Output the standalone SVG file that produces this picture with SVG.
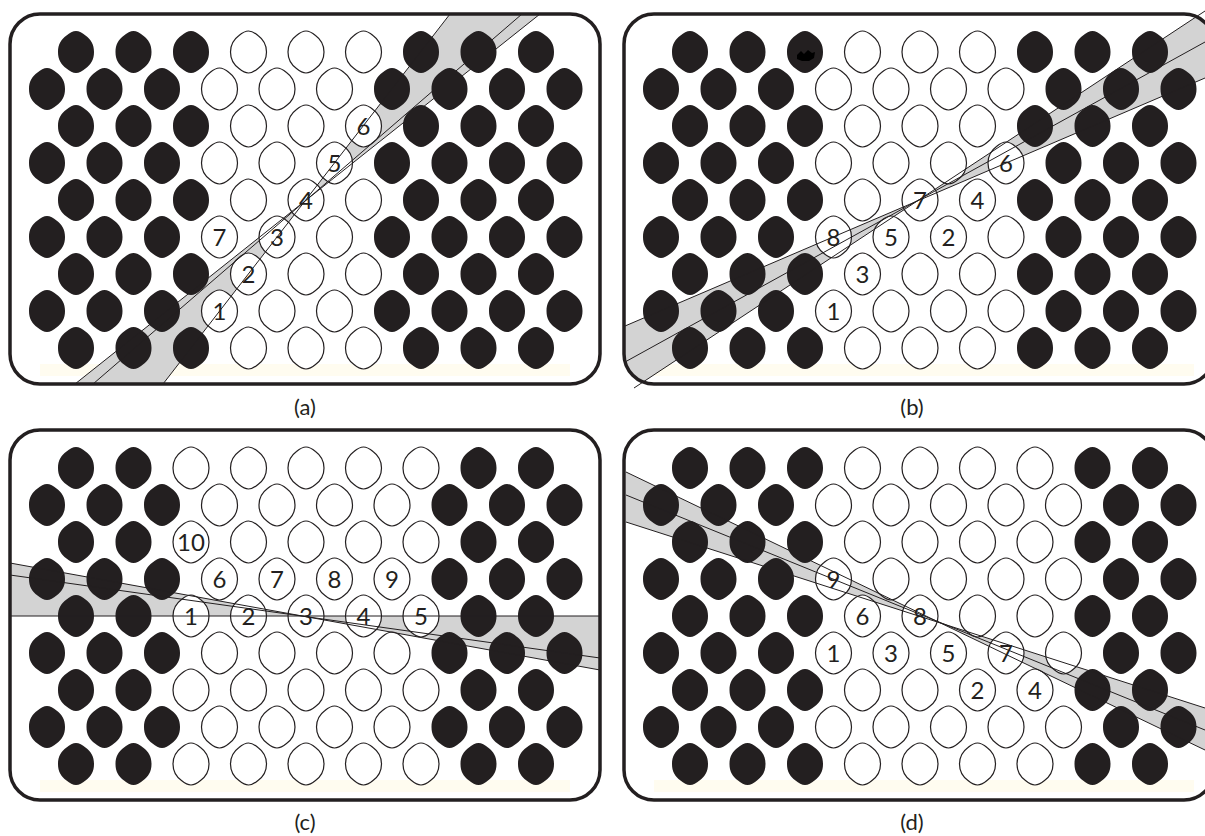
<svg xmlns="http://www.w3.org/2000/svg" xmlns:xlink="http://www.w3.org/1999/xlink" width="1205" height="836" viewBox="0 0 1205 836">
<style>
.k{fill:#231f20}
.w{fill:#fff;stroke:#231f20;stroke-width:1.2}
.fr{fill:none;stroke:#231f20;stroke-width:3.5}
.wg{fill:#d3d3d3;stroke:none}
.ln{stroke:#231f20;stroke-width:1;fill:none}
text.lb{font-family:Lato,"Liberation Sans",Arial,sans-serif;font-size:24px;fill:#231f20;text-anchor:middle}
text.cap{font-family:Lato,"Liberation Sans",Arial,sans-serif;font-size:22px;fill:#231f20;text-anchor:middle}
.st{fill:#fffcf0}
</style>
<defs>
<path id="c" d="M0,-21 C3,-21 6.5,-19 9.5,-16.5 C15,-12.5 18,-7.5 18,0 C18,7.5 15,12.5 9.5,16.5 C6.5,19 3,21 0,21 C-3,21 -6.5,19 -9.5,16.5 C-15,12.5 -18,7.5 -18,0 C-18,-7.5 -15,-12.5 -9.5,-16.5 C-6.5,-19 -3,-21 0,-21Z"/>
<clipPath id="clipB"><rect x="624" y="14" width="590" height="370" rx="30"/></clipPath>
<clipPath id="clipD"><rect x="624" y="430" width="590" height="370" rx="30"/></clipPath>
<g id="eA"><use href="#c" x="76" class="k"/><use href="#c" x="133.5" class="k"/><use href="#c" x="191" class="k"/><use href="#c" x="248.5" class="w"/><use href="#c" x="306" class="w"/><use href="#c" x="363.5" class="w"/><use href="#c" x="421" class="k"/><use href="#c" x="478.5" class="k"/><use href="#c" x="536" class="k"/></g>
<g id="oA"><use href="#c" x="47" class="k"/><use href="#c" x="104.5" class="k"/><use href="#c" x="162" class="k"/><use href="#c" x="219.5" class="w"/><use href="#c" x="277" class="w"/><use href="#c" x="334.5" class="w"/><use href="#c" x="392" class="k"/><use href="#c" x="449.5" class="k"/><use href="#c" x="507" class="k"/><use href="#c" x="564.5" class="k"/></g>
<g id="oB"><use href="#c" x="47" class="k"/><use href="#c" x="104.5" class="k"/><use href="#c" x="162" class="k"/><use href="#c" x="219.5" class="w"/><use href="#c" x="277" class="w"/><use href="#c" x="334.5" class="w"/><use href="#c" x="392" class="w"/><use href="#c" x="449.5" class="k"/><use href="#c" x="507" class="k"/><use href="#c" x="564.5" class="k"/></g>
<g id="eC"><use href="#c" x="76" class="k"/><use href="#c" x="133.5" class="k"/><use href="#c" x="191" class="w"/><use href="#c" x="248.5" class="w"/><use href="#c" x="306" class="w"/><use href="#c" x="363.5" class="w"/><use href="#c" x="421" class="w"/><use href="#c" x="478.5" class="k"/><use href="#c" x="536" class="k"/></g>
<g id="eD"><use href="#c" x="76" class="k"/><use href="#c" x="133.5" class="k"/><use href="#c" x="191" class="k"/><use href="#c" x="248.5" class="w"/><use href="#c" x="306" class="w"/><use href="#c" x="363.5" class="w"/><use href="#c" x="421" class="w"/><use href="#c" x="478.5" class="k"/><use href="#c" x="536" class="k"/></g>
<g id="oD"><use href="#c" x="47" class="k"/><use href="#c" x="104.5" class="k"/><use href="#c" x="162" class="k"/><use href="#c" x="219.5" class="w"/><use href="#c" x="277" class="w"/><use href="#c" x="334.5" class="w"/><use href="#c" x="392" class="w"/><use href="#c" x="449.5" class="w"/><use href="#c" x="507" class="k"/><use href="#c" x="564.5" class="k"/></g>
</defs>
<rect width="1205" height="836" fill="#fff"/>

<g id="panel-a">
<rect class="st" x="40" y="364" width="530" height="12"/>
<polygon class="wg" points="75,384 163,384 450,14 540,14"/>
<use href="#eA" y="52"/><use href="#oA" y="89"/><use href="#eA" y="126"/><use href="#oA" y="163"/><use href="#eA" y="200"/><use href="#oA" y="237"/><use href="#eA" y="274"/><use href="#oA" y="311"/><use href="#eA" y="348"/>
<g class="ln"><line x1="75" y1="384" x2="540" y2="14"/><line x1="163" y1="384" x2="450" y2="14"/><line x1="93" y1="384" x2="522" y2="14"/></g>
<text class="lb" x="219.5" y="320">1</text><text class="lb" x="248.5" y="283">2</text><text class="lb" x="277" y="246">3</text><text class="lb" x="306" y="209">4</text><text class="lb" x="334.5" y="172">5</text><text class="lb" x="363.5" y="135">6</text><text class="lb" x="219.5" y="246">7</text>
<rect class="fr" x="10" y="14" width="590" height="370" rx="30"/>
<text class="cap" x="305" y="415">(a)</text>
</g>

<g id="panel-b">
<rect class="st" x="654" y="364" width="540" height="12"/>
<polygon class="wg" clip-path="url(#clipB)" points="625,326 1205,78 1205,11 625,394"/>
<g transform="translate(614,0)">
<use href="#eA" y="52"/><use href="#oB" y="89"/><use href="#eA" y="126"/><use href="#oB" y="163"/><use href="#eA" y="200"/><use href="#oB" y="237"/><use href="#eA" y="274"/><use href="#oB" y="311"/><use href="#eA" y="348"/>
</g>
<path d="M797,55 L801,51 L804,54 L808,50 L812,53 L815,52 L814,58 L809,61 L802,61 L797,59Z" fill="#000"/>
<g class="ln"><line x1="625" y1="326" x2="1205" y2="78"/><line x1="625" y1="362" x2="1205" y2="42"/><line x1="634" y1="388" x2="1205" y2="11"/></g>
<text class="lb" x="833.5" y="320">1</text><text class="lb" x="862.5" y="283">3</text><text class="lb" x="833.5" y="246">8</text><text class="lb" x="891" y="246">5</text><text class="lb" x="948.5" y="246">2</text><text class="lb" x="920" y="209">7</text><text class="lb" x="977.5" y="209">4</text><text class="lb" x="1006" y="172">6</text>
<rect class="fr" x="624" y="14" width="590" height="370" rx="30"/>
<text class="cap" x="912" y="415">(b)</text>
</g>

<g id="panel-c">
<rect class="st" x="40" y="780" width="530" height="12"/>
<polygon class="wg" points="10,616 600,616 600,670 10,563"/>
<g transform="translate(0,416)">
<use href="#eC" y="52"/><use href="#oB" y="89"/><use href="#eC" y="126"/><use href="#oB" y="163"/><use href="#eC" y="200"/><use href="#oB" y="237"/><use href="#eC" y="274"/><use href="#oB" y="311"/><use href="#eC" y="348"/>
</g>
<g class="ln"><line x1="10" y1="616" x2="600" y2="616"/><line x1="10" y1="563" x2="600" y2="670"/><line x1="10" y1="575" x2="600" y2="658"/></g>
<text class="lb" x="191" y="551">10</text><text class="lb" x="219.5" y="588">6</text><text class="lb" x="277" y="588">7</text><text class="lb" x="334.5" y="588">8</text><text class="lb" x="392" y="588">9</text><text class="lb" x="191" y="625">1</text><text class="lb" x="248.5" y="625">2</text><text class="lb" x="306" y="625">3</text><text class="lb" x="363.5" y="625">4</text><text class="lb" x="421" y="625">5</text>
<rect class="fr" x="10" y="430" width="590" height="370" rx="30"/>
<text class="cap" x="305" y="830">(c)</text>
</g>

<g id="panel-d">
<rect class="st" x="654" y="780" width="540" height="12"/>
<polygon class="wg" clip-path="url(#clipD)" points="626,522 1205,708 1205,750 626,472"/>
<g transform="translate(614,416)">
<use href="#eD" y="52"/><use href="#oD" y="89"/><use href="#eD" y="126"/><use href="#oD" y="163"/><use href="#eD" y="200"/><use href="#oD" y="237"/><use href="#eD" y="274"/><use href="#oD" y="311"/><use href="#eD" y="348"/>
</g>
<g class="ln"><line x1="626" y1="472" x2="1205" y2="750"/><line x1="626" y1="522" x2="1205" y2="708"/><line x1="626" y1="495" x2="1205" y2="730"/></g>
<text class="lb" x="833.5" y="588">9</text><text class="lb" x="862.5" y="625">6</text><text class="lb" x="920" y="625">8</text><text class="lb" x="833.5" y="662">1</text><text class="lb" x="891" y="662">3</text><text class="lb" x="948.5" y="662">5</text><text class="lb" x="1006" y="662">7</text><text class="lb" x="977.5" y="699">2</text><text class="lb" x="1035" y="699">4</text>
<rect class="fr" x="624" y="430" width="590" height="370" rx="30"/>
<text class="cap" x="912" y="830">(d)</text>
</g>
</svg>
